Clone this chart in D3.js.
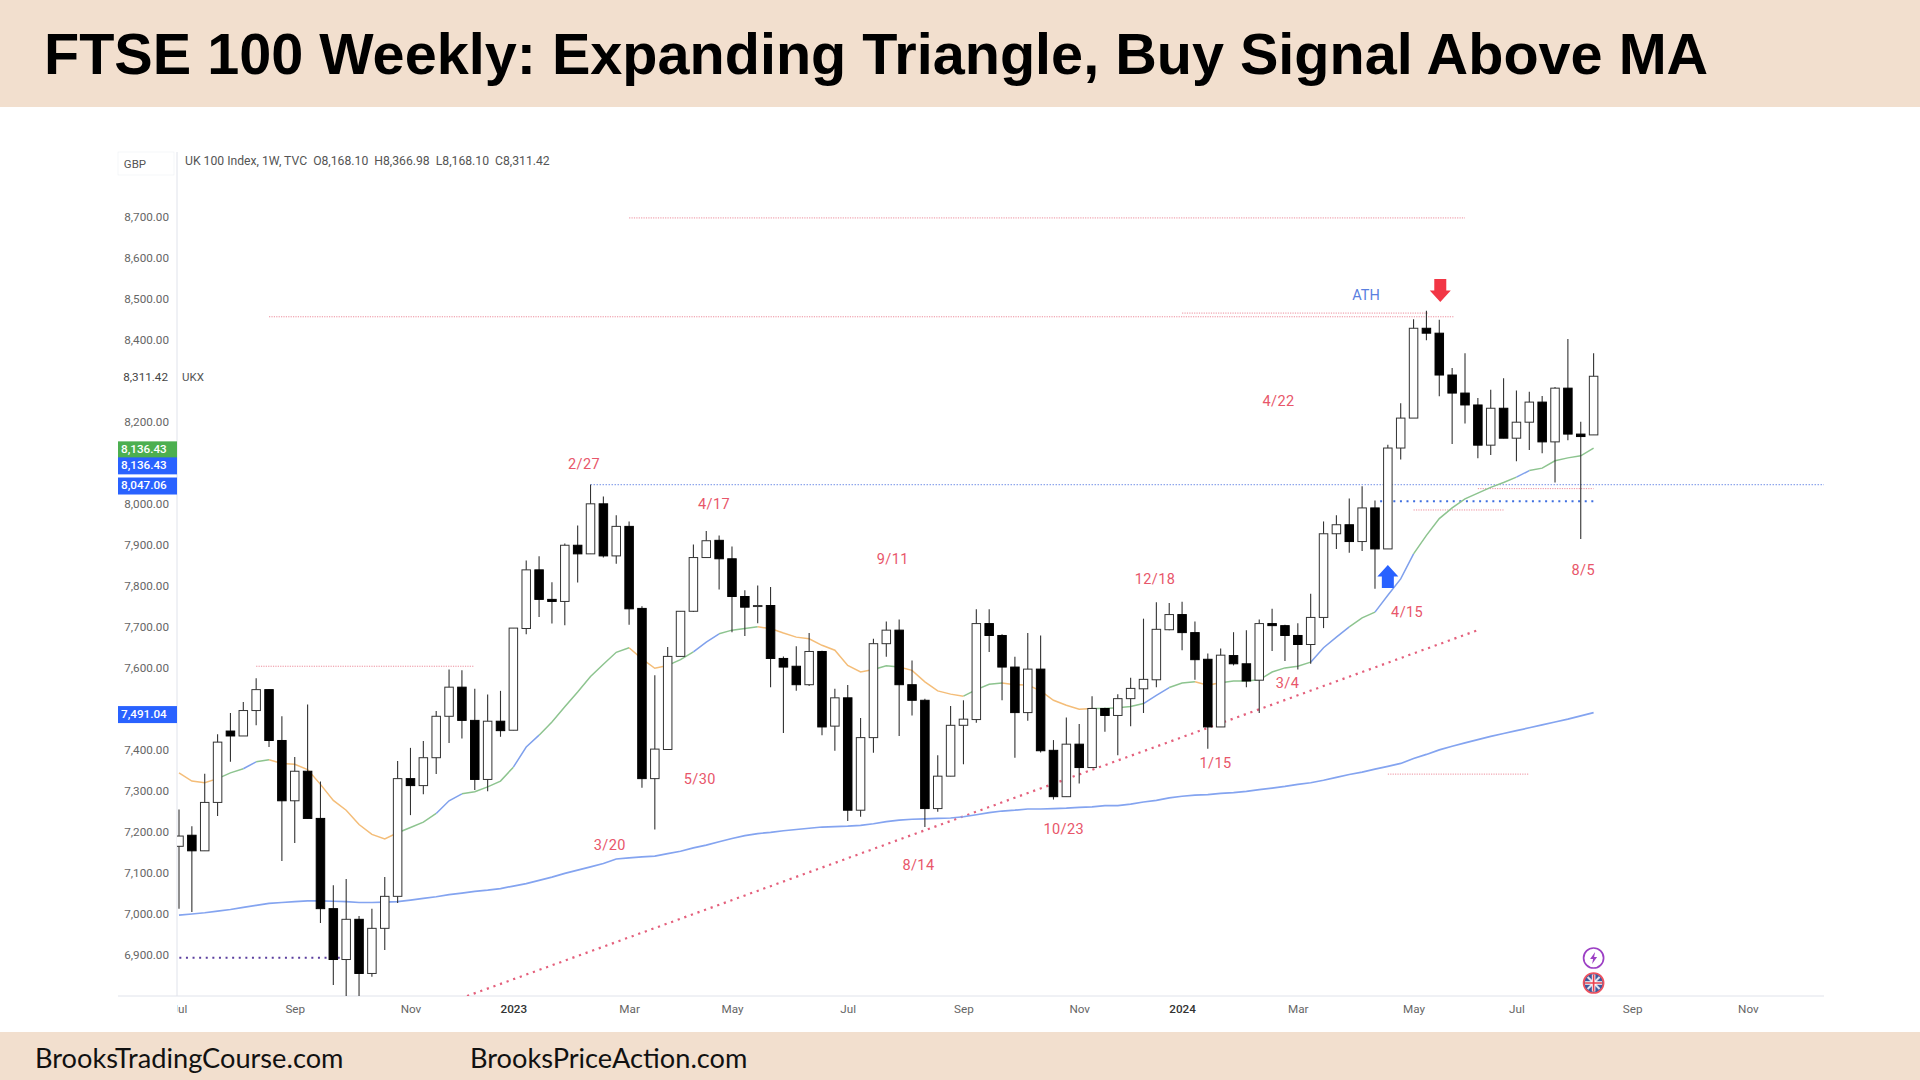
<!DOCTYPE html>
<html>
<head>
<meta charset="utf-8">
<title>FTSE 100 Weekly</title>
<script src="https://cdn.jsdelivr.net/npm/d3@7"></script>
<style>
	html, body { margin: 0; padding: 0; background: #fff; }
	svg { display: block; }
</style>
</head>
<body>
<div id="chart"></div>
<script>
// weekly candles, first bar is the week of 2022-07-04, last one 2024-08-12
var opens = [
	7165,7192,7154,7272,7446,7434,7496,7547,7423,7276,
	7348,7233,7013,6889,6987,6855,6965,7043,7330,7313,
	7381,7482,7553,7472,7328,7470,7448,7696,7839,7767,
	7762,7899,7878,8000,7873,7945,7745,7330,7401,7628,
	7738,7869,7911,7866,7774,7752,7752,7623,7604,7559,
	7640,7458,7527,7253,7430,7659,7692,7559,7521,7257,
	7336,7460,7474,7708,7679,7602,7491,7597,7399,7286,
	7414,7357,7501,7484,7525,7549,7571,7693,7730,7686,
	7621,7456,7630,7610,7570,7708,7703,7679,7657,7723,
	7927,7949,7908,7990,7890,8136,8209,8428,8416,8314,
	8270,8241,8143,8233,8160,8199,8248,8151,8282,8170,8168
];
var highs = [
	7255,7214,7342,7438,7490,7517,7575,7547,7482,7383,
	7511,7323,7070,7085,6995,7013,7090,7373,7405,7422,
	7495,7596,7594,7549,7535,7544,7697,7862,7872,7809,
	7903,7947,8047,8018,7972,7957,7750,7582,7651,7738,
	7901,7934,7923,7896,7789,7801,7797,7628,7653,7685,
	7642,7549,7558,7478,7671,7713,7718,7618,7525,7387,
	7507,7521,7743,7743,7682,7627,7685,7679,7424,7479,
	7463,7531,7503,7536,7576,7720,7760,7758,7761,7713,
	7635,7647,7687,7692,7718,7744,7705,7709,7781,7957,
	7972,8013,8043,8008,8144,8245,8450,8471,8449,8331,
	8367,8258,8278,8306,8276,8273,8263,8285,8402,8200,8367
];
var lows = [
	7013,7005,7154,7239,7371,7434,7460,7407,7129,7173,
	7233,6978,6827,6795,6795,6847,6912,7027,7241,7292,
	7341,7417,7428,7302,7299,7432,7448,7682,7724,7708,
	7704,7808,7878,7869,7854,7705,7308,7206,7401,7628,
	7736,7869,7791,7687,7678,7709,7553,7441,7544,7556,
	7436,7398,7227,7237,7393,7627,7434,7484,7212,7249,
	7336,7365,7466,7639,7521,7381,7471,7394,7279,7286,
	7318,7357,7444,7387,7458,7490,7553,7692,7643,7571,
	7403,7456,7606,7553,7490,7641,7617,7596,7610,7697,
	7890,7881,7885,7793,7890,8108,8209,8399,8262,8146,
	8196,8111,8119,8160,8104,8131,8123,8052,8155,7914,8168
];
var closes = [
	7190,7154,7272,7419,7434,7496,7547,7423,7276,7348,
	7233,7013,6889,6987,6855,6965,7043,7330,7313,7381,
	7482,7553,7472,7328,7470,7447,7697,7839,7767,7762,
	7899,7878,8000,7873,7945,7744,7330,7402,7628,7738,
	7869,7910,7866,7774,7748,7752,7623,7602,7559,7640,
	7456,7527,7253,7430,7659,7692,7559,7521,7257,7336,
	7460,7475,7708,7679,7602,7491,7597,7398,7286,7414,
	7357,7501,7484,7525,7550,7572,7694,7730,7686,7620,
	7456,7631,7610,7568,7708,7703,7679,7657,7723,7927,
	7949,7908,7990,7890,8136,8209,8428,8416,8314,8270,
	8241,8143,8233,8160,8199,8248,8151,8282,8170,8164,8311
];

// short moving average, changes colour with its trend
var maShort = [
	7344,7324,7320,7330,7344,7354,7371,7376,7367,7365,
	7352,7316,7277,7253,7218,7194,7183,7198,7211,7224,
	7245,7276,7293,7298,7310,7324,7358,7407,7436,7468,
	7505,7541,7579,7609,7638,7649,7622,7599,7606,7620,
	7639,7663,7683,7692,7696,7700,7696,7685,7675,7671,
	7655,7643,7606,7590,7596,7605,7602,7594,7566,7544,
	7536,7531,7547,7560,7563,7559,7558,7544,7521,7509,
	7499,7501,7501,7503,7506,7513,7533,7552,7563,7566,
	7558,7564,7568,7568,7571,7590,7600,7604,7614,7649,
	7675,7700,7722,7736,7777,7817,7878,7923,7964,7990,
	8012,8026,8040,8052,8065,8081,8087,8105,8112,8117,8136
];
// from week, to week, trend
var maRuns = [
	[0,3,'down'],[3,5,'up'],[5,6,'steep'],[6,7,'up'],[7,17,'down'],[17,20,'up'],[20,22,'steep'],
	[22,26,'up'],[26,28,'steep'],[28,35,'up'],[35,38,'down'],[38,40,'up'],[40,42,'steep'],[42,45,'up'],
	[45,54,'down'],[54,56,'up'],[56,61,'down'],[61,64,'up'],[64,71,'down'],[71,75,'up'],[75,77,'steep'],
	[77,79,'up'],[79,81,'down'],[81,88,'up'],[88,91,'steep'],[91,93,'up'],[93,96,'steep'],[96,104,'up'],
	[104,105,'steep'],[105,110,'up']
];
var maLong = [
	6997,7000,7003,7007,7011,7016,7021,7026,7028,7030,
	7032,7032,7031,7030,7028,7028,7029,7030,7034,7038,
	7042,7047,7051,7055,7058,7062,7068,7074,7082,7090,
	7099,7107,7115,7123,7134,7137,7139,7141,7147,7153,
	7161,7168,7176,7184,7191,7196,7199,7203,7206,7209,
	7212,7213,7214,7216,7220,7225,7229,7231,7232,7233,
	7234,7237,7242,7247,7251,7253,7256,7256,7257,7258,
	7260,7261,7264,7264,7268,7273,7277,7283,7287,7290,
	7291,7294,7296,7299,7303,7307,7311,7316,7320,7326,
	7333,7340,7346,7353,7360,7367,7379,7389,7400,7409,
	7417,7425,7433,7440,7447,7454,7461,7468,7475,7483,7491
];

// 7,500 8,100 and 8,300 sit behind the price tags in the picture
var yTicks = [6900,7000,7100,7200,7300,7400,7600,7700,7800,7900,8000,8200,8400,8500,8600,8700];
var xTickWeeks = [0,9,18,26,35,43,52,61,70,78,87,96,104,113,122];
var xTickLabels = ['Jul','Sep','Nov','2023','Mar','May','Jul','Sep','Nov','2024','Mar','May','Jul','Sep','Nov'];

// drawn horizontal levels: price, from week, to week
var redLevels = [
	[8697,35.0,100.0],[8456,7.0,99.1],[8465,78.0,97.1],[7604,6.0,22.9],
	[7985,96.0,103.0],[8037,101.0,110.0],[7341,94.0,105.0]
];
var blueLevel = [8047,32.0,128];
var thickBlueLevel = [8006,93.4,110];
var purpleLevel = [6893,-1,12.5];
var trendWeeks = [22.4,101];
var trendPrices = [6800,7692];

var noteLabels = ['2/27','4/17','9/11','12/18','4/22','8/5','4/15','3/4','1/15','5/30','10/23','3/20','8/14'];
var noteWeeks = [31.5,41.6,55.5,75.9,85.5,109.2,95.5,86.2,80.6,40.5,68.8,33.5,57.5];
var notePrices = [8098,8000,7867,7818,8251,7840,7738,7565,7368,7331,7209,7170,7121];

var tagLabels = ['8,136.43','8,136.43','8,047.06','7,491.04'];
var tagPrices = [8136.43,8136.43,8047.06,7491.04];
var tagColors = ['#4caf50','#2962ff','#2962ff','#2962ff'];
var tagNudge = [2,18,1.5,2];

var legendText = 'UK 100 Index, 1W, TVC  O8,168.10  H8,366.98  L8,168.10  C8,311.42';

var width = 1920,
	height = 1080,
	axisX = 177,
	rightX = 1824,
	bottomY = 996,
	bodyWidth = 8.5;

var band = '#f2dfce';
var maColors = { up: '#8dc48f', down: '#f4bd78', steep: '#7fa0ec' };
var noteColor = '#e8566a';
var labelFont = 'Roboto, sans-serif';

var x = d3.scaleLinear().domain([0, 110]).range([179, 1593.6]);
var y = d3.scaleLinear().domain([6900, 8700]).range([955, 216.7]);

var svg = d3.select('#chart').append('svg')
	.attr('width', width)
	.attr('height', height);

var defs = svg.append('defs');
defs.append('clipPath').attr('id', 'plotClip').append('rect')
	.attr('x', axisX).attr('y', 140).attr('width', rightX - axisX).attr('height', bottomY - 140);

svg.append('rect').attr('width', width).attr('height', height).attr('fill', '#fff');

// header and footer
svg.append('rect').attr('width', width).attr('height', 107).attr('fill', band);
svg.append('rect').attr('y', 1032).attr('width', width).attr('height', 48).attr('fill', band);
svg.append('text')
	.text('FTSE 100 Weekly: Expanding Triangle, Buy Signal Above MA')
	.attr('x', 44).attr('y', 74)
	.attr('font-family', '"Liberation Sans", Arial, sans-serif')
	.attr('font-weight', 700)
	.attr('font-size', '57.6px')
	.attr('fill', '#000');
svg.append('text').text('BrooksTradingCourse.com')
	.attr('x', 35).attr('y', 1068)
	.attr('font-family', 'Lato, sans-serif').attr('font-size', '27.2px').attr('fill', '#111');
svg.append('text').text('BrooksPriceAction.com')
	.attr('x', 470).attr('y', 1068)
	.attr('font-family', 'Lato, sans-serif').attr('font-size', '27.2px').attr('fill', '#111');

// axes
var yAxis = svg.append('g')
	.attr('transform', 'translate(' + axisX + ',0)')
	.call(d3.axisLeft(y).tickValues(yTicks).tickSize(0).tickPadding(8).tickFormat(d3.format(',.2f')));
yAxis.select('.domain').remove();
yAxis.selectAll('text')
	.attr('font-family', labelFont).attr('font-size', '11.7px').attr('fill', '#666');

svg.append('line').attr('x1', axisX).attr('x2', axisX).attr('y1', 152).attr('y2', bottomY)
	.attr('stroke', '#e0e3eb').attr('stroke-width', 1);
svg.append('line').attr('x1', 118).attr('x2', rightX).attr('y1', bottomY).attr('y2', bottomY)
	.attr('stroke', '#e0e3eb').attr('stroke-width', 1);

var xAxis = svg.append('g')
	.attr('transform', 'translate(0,' + bottomY + ')')
	.call(d3.axisBottom(x).tickValues(xTickWeeks).tickSize(0).tickPadding(9)
		.tickFormat(function(d, i) { return xTickLabels[i]; }));
xAxis.select('.domain').remove();
xAxis.selectAll('text')
	.attr('font-family', labelFont)
	.attr('font-size', '11.7px')
	.attr('font-weight', function(d, i) { return xTickLabels[i].length == 4 ? 500 : 400; })
	.attr('fill', function(d, i) { return xTickLabels[i].length == 4 ? '#333' : '#666'; });
// the first label is cut by the price axis
xAxis.selectAll('.tick').filter(function(d) { return d == 0; }).select('text')
	.attr('clip-path', 'url(#firstLabel)');
defs.append('clipPath').attr('id', 'firstLabel').append('rect')
	.attr('x', axisX - x(0)).attr('y', 0).attr('width', 40).attr('height', 30);

// plot area
var plot = svg.append('g').attr('clip-path', 'url(#plotClip)');

function drawLevel(level, color, strokeWidth, dash) {
	plot.append('line')
		.attr('x1', x(level[1])).attr('x2', x(level[2]))
		.attr('y1', y(level[0])).attr('y2', y(level[0]))
		.attr('stroke', color)
		.attr('stroke-width', strokeWidth)
		.attr('stroke-dasharray', dash);
}

redLevels.forEach(function(level) {
	drawLevel(level, '#ec8d9c', 1, '1.2,1.2');
});
drawLevel(blueLevel, '#8ea6ec', 1.2, '1.5,1.5');
drawLevel(thickBlueLevel, '#3f6fe0', 2, '2,4.6');
drawLevel(purpleLevel, '#5b3f9e', 2, '2,4.6');

plot.append('line')
	.attr('x1', x(trendWeeks[0])).attr('x2', x(trendWeeks[1]))
	.attr('y1', y(trendPrices[0])).attr('y2', y(trendPrices[1]))
	.attr('stroke', '#e4607c')
	.attr('stroke-width', 2.2)
	.attr('stroke-dasharray', '2.2,4.8');

var maLine = d3.line()
	.x(function(d) { return x(d[0]); })
	.y(function(d) { return y(d[1]); });

var maPoints = maShort.map(function(v, i) { return [i, v]; });

maRuns.forEach(function(run) {
	plot.append('path')
		.datum(maPoints.slice(run[0], run[1] + 1))
		.attr('d', maLine)
		.attr('fill', 'none')
		.attr('stroke', maColors[run[2]])
		.attr('stroke-width', 1.5);
});

plot.append('path')
	.datum(maLong.map(function(v, i) { return [i, v]; }))
	.attr('d', maLine)
	.attr('fill', 'none')
	.attr('stroke', '#84a4f0')
	.attr('stroke-width', 1.7);

// candles
var candles = plot.append('g').selectAll('g')
	.data(opens)
	.enter().append('g');

candles.append('line')
	.attr('x1', function(d, i) { return x(i); })
	.attr('x2', function(d, i) { return x(i); })
	.attr('y1', function(d, i) { return y(highs[i]); })
	.attr('y2', function(d, i) { return y(lows[i]); })
	.attr('stroke', '#333')
	.attr('stroke-width', 1.1);

candles.append('rect')
	.attr('x', function(d, i) { return x(i) - bodyWidth / 2; })
	.attr('width', bodyWidth)
	.attr('y', function(d, i) { return y(Math.max(opens[i], closes[i])); })
	.attr('height', function(d, i) { return Math.max(1, Math.abs(y(opens[i]) - y(closes[i]))); })
	.attr('fill', function(d, i) { return closes[i] >= opens[i] ? '#fff' : '#000'; })
	.attr('stroke', function(d, i) { return closes[i] >= opens[i] ? '#333' : '#000'; })
	.attr('stroke-width', 1);

// date notes
svg.append('g').selectAll('text')
	.data(noteLabels)
	.enter().append('text')
	.text(function(d) { return d; })
	.attr('x', function(d, i) { return x(noteWeeks[i]); })
	.attr('y', function(d, i) { return y(notePrices[i]) + 1.5; })
	.attr('text-anchor', 'middle')
	.attr('dominant-baseline', 'middle')
	.attr('font-family', labelFont)
	.attr('font-size', '14.5px')
	.attr('letter-spacing', '0.4px')
	.attr('fill', noteColor);

svg.append('text').text('ATH')
	.attr('x', x(92.3)).attr('y', y(8510) + 1.5)
	.attr('text-anchor', 'middle')
	.attr('dominant-baseline', 'middle')
	.attr('font-family', labelFont)
	.attr('font-size', '14.5px')
	.attr('fill', '#5a80e0');

// signal arrows
var arrowShape = 'M-6,-11.5H6V0H10.5L0,11.5L-10.5,0H-6Z';
svg.append('path').attr('d', arrowShape)
	.attr('transform', 'translate(' + (x(98) + 1) + ',' + y(8520) + ')')
	.attr('fill', '#f23645');
svg.append('path').attr('d', arrowShape)
	.attr('transform', 'translate(' + x(94) + ',' + y(7823) + ') rotate(180)')
	.attr('fill', '#2962ff');

// price tags on the axis
var gbp = svg.append('g');
gbp.append('rect').attr('x', 118).attr('y', 152).attr('width', 56).attr('height', 23)
	.attr('fill', '#fff').attr('stroke', '#f0f2f5').attr('stroke-width', 0.7);
gbp.append('text').text('GBP').attr('x', 135).attr('y', 165)
	.attr('text-anchor', 'middle').attr('dominant-baseline', 'middle')
	.attr('font-family', labelFont).attr('font-size', '11.5px').attr('fill', '#555');

svg.append('text').text('8,311.42')
	.attr('x', 168).attr('y', y(8311.42) + 1.5)
	.attr('text-anchor', 'end').attr('dominant-baseline', 'middle')
	.attr('font-family', labelFont).attr('font-size', '11.7px').attr('fill', '#444');
svg.append('text').text('UKX')
	.attr('x', 182).attr('y', y(8311.42) + 2)
	.attr('dominant-baseline', 'middle')
	.attr('font-family', labelFont).attr('font-size', '11.5px').attr('fill', '#555');

var tags = svg.append('g').selectAll('g')
	.data(tagLabels)
	.enter().append('g')
	.attr('transform', function(d, i) { return 'translate(118,' + (y(tagPrices[i]) + tagNudge[i]) + ')'; });
tags.append('rect')
	.attr('y', -8.5).attr('width', 59).attr('height', 17)
	.attr('fill', function(d, i) { return tagColors[i]; });
tags.append('text')
	.text(function(d) { return d; })
	.attr('x', 3).attr('dominant-baseline', 'middle')
	.attr('font-family', labelFont).attr('font-size', '11.7px').attr('font-weight', 500).attr('fill', '#fff');

svg.append('text').text(legendText)
	.attr('x', 185).attr('y', 162)
	.attr('dominant-baseline', 'middle')
	.style('white-space', 'pre')
	.attr('font-family', labelFont).attr('font-size', '12.2px').attr('fill', '#555');

// event icons under the last bars
var iconX = x(110);
var bolt = svg.append('g').attr('transform', 'translate(' + iconX + ',958)');
bolt.append('circle').attr('r', 10).attr('fill', '#fff').attr('stroke', '#9c3fc4').attr('stroke-width', 1.7);
bolt.append('path').attr('d', 'M1.5,-6L-3.5,1H-0.5L-1.5,6L3.5,-1H0.5Z').attr('fill', '#9c3fc4');

var flag = svg.append('g').attr('transform', 'translate(' + iconX + ',983)');
flag.append('circle').attr('r', 10).attr('fill', '#3f5a9e').attr('stroke', '#f0525f').attr('stroke-width', 1.7);
flag.append('path').attr('d', 'M-6,-6L6,6M6,-6L-6,6').attr('stroke', '#dfe3ee').attr('stroke-width', 2);
flag.append('path').attr('d', 'M0,-8.5V8.5M-8.5,0H8.5').attr('stroke', '#fff').attr('stroke-width', 3.5);
flag.append('path').attr('d', 'M0,-8.5V8.5M-8.5,0H8.5').attr('stroke', '#e8404e').attr('stroke-width', 1.7);
</script>
</body>
</html>
